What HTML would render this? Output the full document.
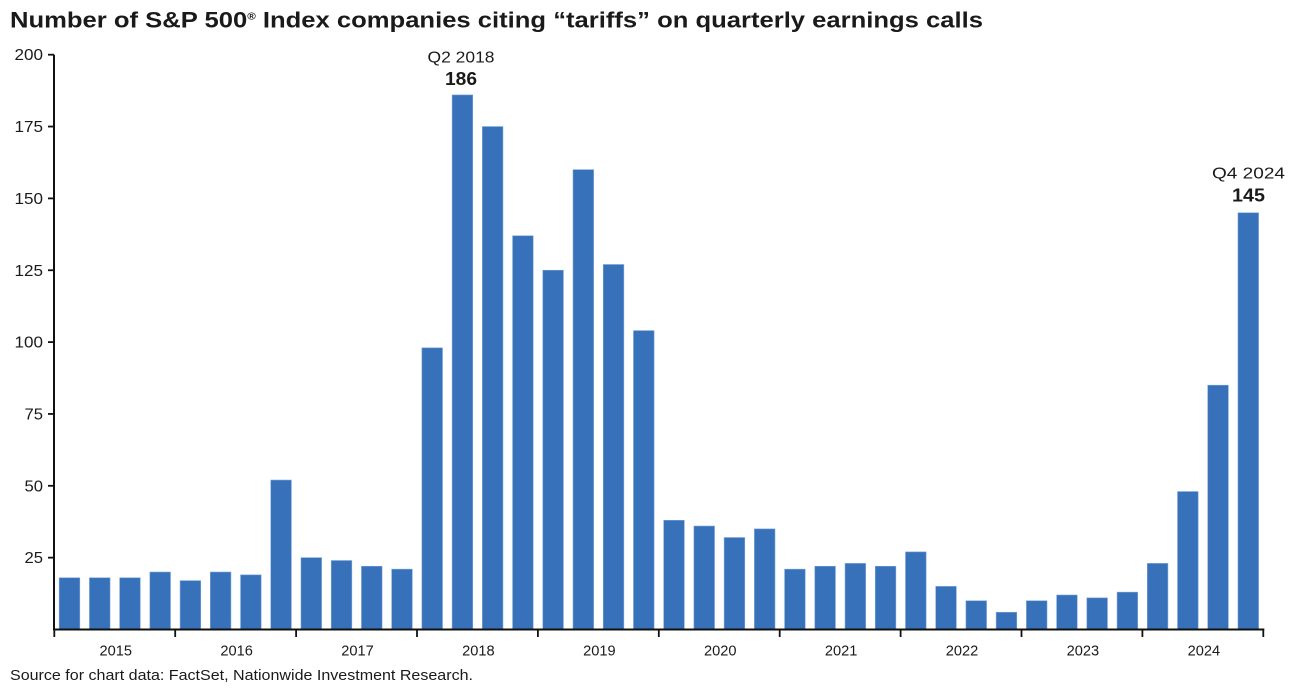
<!DOCTYPE html>
<html><head><meta charset="utf-8"><style>
html,body{margin:0;padding:0;background:#fff;}
svg{display:block;}
text{font-family:"Liberation Sans",sans-serif;fill:#1a1a1a;}
</style></head><body>
<svg width="1295" height="691" viewBox="0 0 1295 691" xmlns="http://www.w3.org/2000/svg">
<text x="10" y="27.5" font-size="22" font-weight="bold" fill="#000" textLength="973" lengthAdjust="spacingAndGlyphs">Number of S&amp;P 500<tspan font-size="10" dy="-8">®</tspan><tspan dy="8"> Index companies citing “tariffs” on quarterly earnings calls</tspan></text>
<g id="bars" fill="#3671b9" stroke="#7aa3d6" stroke-width="0.6"></g>
<g stroke="#111" stroke-width="2" fill="none">
<line x1="54" y1="54.7" x2="54" y2="630.5"/>
<line x1="53" y1="629.5" x2="1264.3" y2="629.5"/>
</g>
<g id="yt" stroke="#111" stroke-width="1.8"></g>
<g id="yl" font-size="15.5" text-anchor="end"></g>
<g id="xt" stroke="#111" stroke-width="1.8"></g>
<g id="xl" font-size="14.5" text-anchor="middle"></g>
<text x="461" y="62.5" font-size="15.5" text-anchor="middle" textLength="67" lengthAdjust="spacingAndGlyphs">Q2 2018</text>
<text x="461" y="85" font-size="18" font-weight="bold" fill="#000" text-anchor="middle" textLength="32" lengthAdjust="spacingAndGlyphs">186</text>
<text x="1248.5" y="178.3" font-size="15.5" text-anchor="middle" textLength="73" lengthAdjust="spacingAndGlyphs">Q4 2024</text>
<text x="1248.5" y="201.7" font-size="18" font-weight="bold" fill="#000" text-anchor="middle" textLength="33" lengthAdjust="spacingAndGlyphs">145</text>
<text x="10" y="680" font-size="15" textLength="463" lengthAdjust="spacingAndGlyphs">Source for chart data: FactSet, Nationwide Investment Research.</text>
</svg>
<script>
var ns="http://www.w3.org/2000/svg";
var d=[18,18,18,20,17,20,19,52,25,24,22,21,98,186,175,137,125,160,127,104,38,36,32,35,21,22,23,22,27,15,10,6,10,12,11,13,23,48,85,145];
var x0=54.3,sw=30.225,y0=629.5,k=2.874;
var g=document.getElementById('bars');
d.forEach(function(v,i){var r=document.createElementNS(ns,'rect');var h=v*k;
r.setAttribute('x',(x0+i*sw+4.9).toFixed(2));r.setAttribute('y',(y0-h).toFixed(2));
r.setAttribute('width','20.6');r.setAttribute('height',h.toFixed(2));g.appendChild(r);});
var yt=document.getElementById('yt'),yl=document.getElementById('yl');
for(var v=25;v<=200;v+=25){var y=y0-v*k;var l=document.createElementNS(ns,'line');
l.setAttribute('x1','48');l.setAttribute('x2','54');l.setAttribute('y1',y);l.setAttribute('y2',y);yt.appendChild(l);
var t=document.createElementNS(ns,'text');t.setAttribute('x','43');t.setAttribute('y',(y+5.5).toFixed(2));
t.setAttribute('textLength',v>=100?'28.5':'18.5');t.setAttribute('lengthAdjust','spacingAndGlyphs');t.textContent=v;yl.appendChild(t);}
var xt=document.getElementById('xt'),xl=document.getElementById('xl');var yw=120.9;
for(var i=0;i<=10;i++){var x=x0+i*yw;var l=document.createElementNS(ns,'line');
l.setAttribute('x1',x);l.setAttribute('x2',x);l.setAttribute('y1','629.5');l.setAttribute('y2','637');xt.appendChild(l);
if(i<10){var t=document.createElementNS(ns,'text');t.setAttribute('x',(x+yw/2+1).toFixed(2));t.setAttribute('y','655.5');
t.setAttribute('textLength','32.5');t.setAttribute('lengthAdjust','spacingAndGlyphs');t.textContent=2015+i;xl.appendChild(t);}}
</script>
</body></html>
